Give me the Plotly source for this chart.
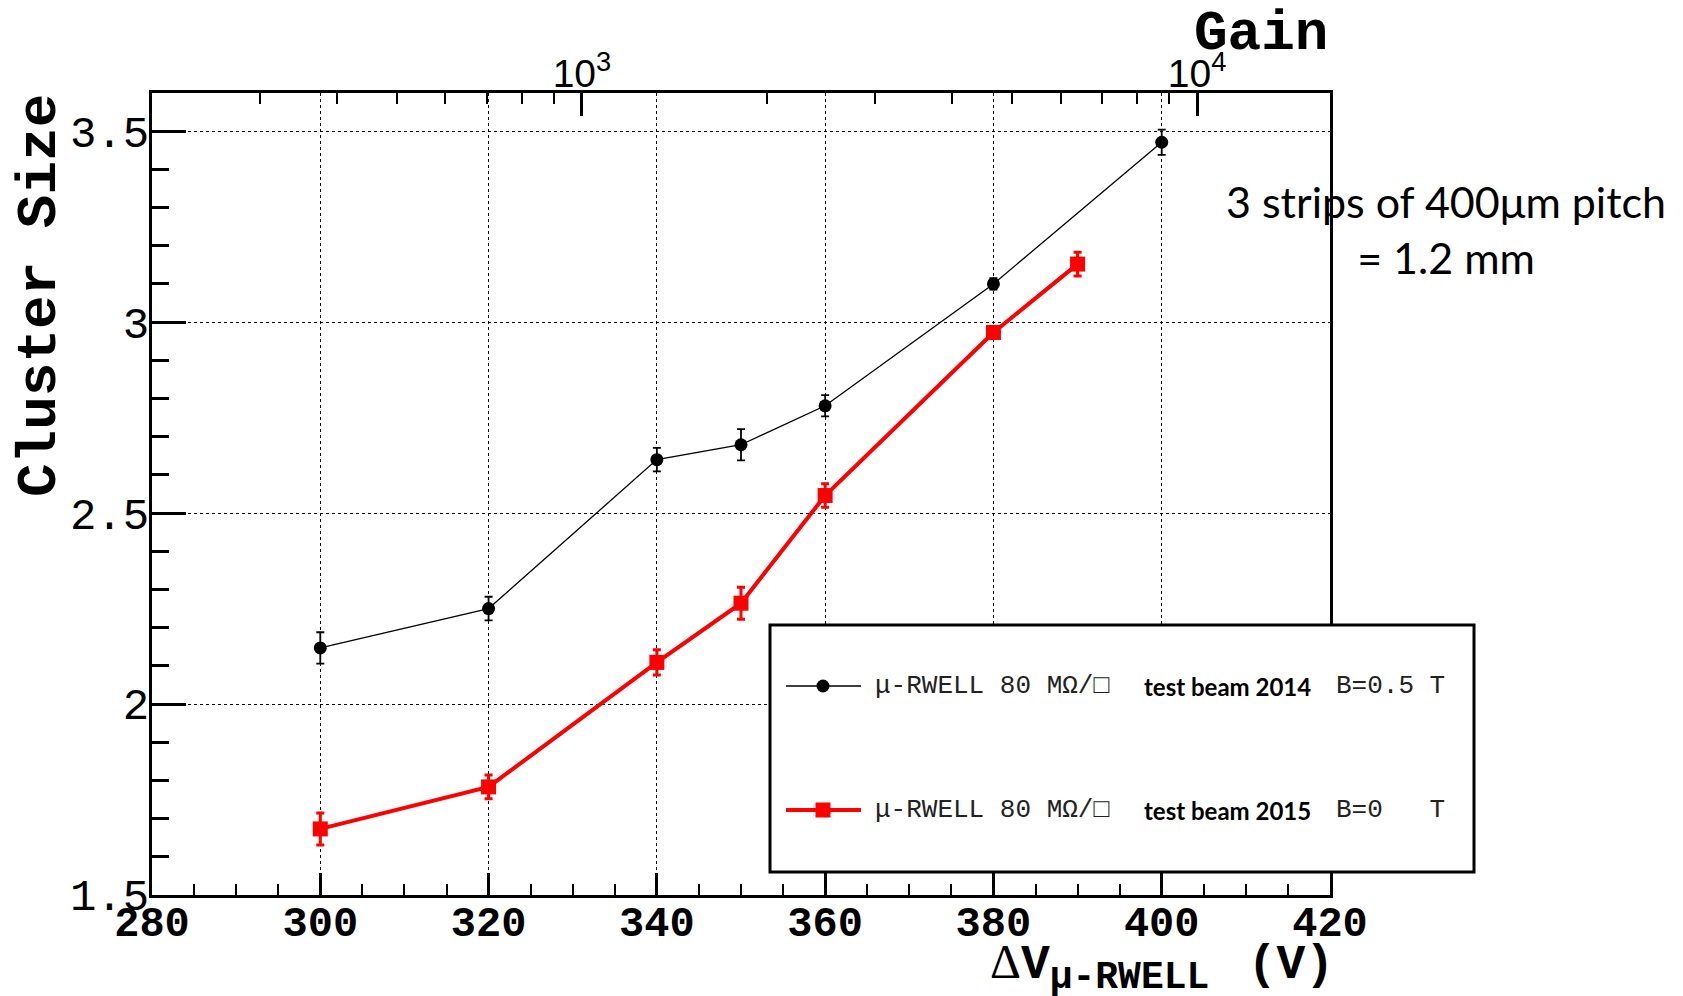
import plotly.graph_objects as go
import math

# ---------------- data ----------------
V_2014 = [300, 320, 340, 350, 360, 380, 400]
cs_2014 = [2.147, 2.250, 2.640, 2.679, 2.781, 3.100, 3.471]
err_2014 = [0.041, 0.031, 0.031, 0.041, 0.028, 0.015, 0.033]

V_2015 = [300, 320, 340, 350, 360, 380, 390]
cs_2015 = [1.673, 1.783, 2.109, 2.264, 2.546, 2.973, 3.152]
err_2015 = [0.042, 0.031, 0.033, 0.042, 0.031, 0.012, 0.031]

x_major = [280, 300, 320, 340, 360, 380, 400, 420]
x_labels = ["280", "300", "320", "340", "360", "380", "400", "420"]
y_major = [1.5, 2.0, 2.5, 3.0, 3.5]
y_labels = ["1.5", "2", "2.5", "3", "3.5"]

gain_major = [1000, 10000]
gain_labels = ["10<sup>3</sup>", "10<sup>4</sup>"]
gain_minor = [300, 400, 500, 600, 700, 800, 900,
              2000, 3000, 4000, 5000, 6000, 7000, 8000, 9000]
gain_range = [200, 16450]

legend_mono1 = ["μ-RWELL 80 MΩ/<b>□</b>", "μ-RWELL 80 MΩ/<b>□</b>"]
legend_beam = ["test beam 2014", "test beam 2015"]
legend_field = ["B=0.5 T", "B=0\u00a0\u00a0\u00a0T"]

# ---------------- geometry helpers ----------------
W, H = 1683, 996
L, R, T, B = 152, 1330, 93, 895
PW, PH = R - L, B - T


def px(xp):
    return (xp - L) / PW


def py(yp):
    return (B - yp) / PH


MONO = "Liberation Mono"
SANS = "Lato"

fig = go.Figure()

fig.add_trace(go.Scatter(
    x=V_2014, y=cs_2014, mode="lines+markers",
    line=dict(color="black", width=1.3),
    marker=dict(symbol="circle", size=13, color="black"),
    error_y=dict(type="data", array=err_2014, visible=True,
                 color="black", thickness=1.8, width=4),
    showlegend=False, hoverinfo="skip"))

fig.add_trace(go.Scatter(
    x=V_2015, y=cs_2015, mode="lines+markers",
    line=dict(color="#ff0000", width=4),
    marker=dict(symbol="square", size=15, color="#ff0000"),
    error_y=dict(type="data", array=err_2015, visible=True,
                 color="#ff0000", thickness=3, width=4),
    showlegend=False, hoverinfo="skip"))

# invisible trace to activate top gain axis
fig.add_trace(go.Scatter(
    x=[gain_major[0]], y=[y_major[1]], xaxis="x2", mode="markers",
    marker=dict(opacity=0), showlegend=False, hoverinfo="skip"))

fig.update_layout(
    width=W, height=H,
    margin=dict(l=L, r=W - R, t=T, b=H - B, pad=0),
    paper_bgcolor="white", plot_bgcolor="white",
    showlegend=False,
    xaxis=dict(
        range=[280, 420], tickmode="array", tickvals=x_major, ticktext=x_labels,
        ticks="inside", ticklen=22, tickwidth=2.5, tickcolor="black",
        minor=dict(dtick=5, ticks="inside", ticklen=11, tickwidth=2,
                   tickcolor="black", showgrid=False),
        showgrid=True, gridcolor="black", griddash="dot", gridwidth=1.2,
        showline=True, linecolor="black", linewidth=3, mirror=False,
        zeroline=False,
        tickfont=dict(family=MONO, size=42, color="black", weight="bold"),
        ticklabelstandoff=-12,
    ),
    xaxis2=dict(
        type="log", overlaying="x", side="top",
        range=[math.log10(gain_range[0]), math.log10(gain_range[1])],
        tickmode="array", tickvals=gain_major, ticktext=gain_labels,
        ticks="inside", ticklen=23, tickwidth=2.5, tickcolor="black",
        minor=dict(tickmode="array", tickvals=gain_minor, ticks="inside",
                   ticklen=11, tickwidth=2, tickcolor="black", showgrid=False),
        showgrid=False, showline=True, linecolor="black", linewidth=3,
        zeroline=False,
        tickfont=dict(family="Liberation Sans", size=39, color="black"),
        ticklabelstandoff=-13,
    ),
    yaxis=dict(
        range=[1.5, 3.6], tickmode="array", tickvals=y_major, ticktext=y_labels,
        ticks="inside", ticklen=34, tickwidth=3, tickcolor="black",
        minor=dict(dtick=0.1, ticks="inside", ticklen=17, tickwidth=2.5,
                   tickcolor="black", showgrid=False),
        showgrid=True, gridcolor="black", griddash="dot", gridwidth=1.2,
        showline=True, linecolor="black", linewidth=3, mirror=True,
        zeroline=False,
        tickfont=dict(family=MONO, size=44, color="black"),
        ticklabelstandoff=-9,
    ),
)

shapes = []
annotations = []

# axis titles
annotations.append(dict(
    text="Cluster Size", xref="paper", yref="paper",
    x=px(40), y=py(296), xanchor="center", yanchor="middle",
    textangle=-90, showarrow=False,
    font=dict(family=MONO, size=56, color="black", weight="bold")))
annotations.append(dict(
    text="Gain", xref="paper", yref="paper",
    x=1.0, y=py(34), xanchor="right", yanchor="middle", showarrow=False,
    font=dict(family=MONO, size=56, color="black", weight="bold")))
annotations.append(dict(
    text="<span style='font-family:Liberation Serif;font-weight:normal'>Δ</span>V"
         "<sub><span style='font-size:38px'>μ-RWELL</span></sub>\u00a0\u2009(V)",
    xref="paper", yref="paper", x=px(1336), y=py(933),
    xanchor="right", yanchor="top", showarrow=False,
    font=dict(family=MONO, size=48, color="black", weight="bold")))

# side note
annotations.append(dict(
    text="3 strips of 400μm pitch<br>= 1.2 mm",
    xref="paper", yref="paper", x=px(1446), y=py(230),
    xanchor="center", yanchor="middle", align="center", showarrow=False,
    font=dict(family=SANS, size=43, color="black")))

# legend box
shapes.append(dict(
    type="rect", xref="paper", yref="paper",
    x0=px(770), x1=px(1474), y0=py(872), y1=py(625),
    line=dict(color="black", width=3), fillcolor="white", layer="above"))

row_y = [686, 810]
line_cols = ["black", "#ff0000"]
line_ws = [1.5, 4]
for i in range(2):
    yy = py(row_y[i])
    shapes.append(dict(
        type="line", xref="paper", yref="paper",
        x0=px(786), x1=px(861), y0=yy, y1=yy,
        line=dict(color=line_cols[i], width=line_ws[i]), layer="above"))
    if i == 0:
        shapes.append(dict(
            type="circle", xref="paper", yref="paper",
            xsizemode="pixel", ysizemode="pixel",
            xanchor=px(823), yanchor=yy, x0=-6.5, x1=6.5, y0=-6.5, y1=6.5,
            fillcolor="black", line=dict(color="black", width=0), layer="above"))
    else:
        shapes.append(dict(
            type="rect", xref="paper", yref="paper",
            xsizemode="pixel", ysizemode="pixel",
            xanchor=px(823), yanchor=yy, x0=-7.5, x1=7.5, y0=-7.5, y1=7.5,
            fillcolor="#ff0000", line=dict(color="#ff0000", width=0), layer="above"))
    annotations.append(dict(
        text=legend_mono1[i], xref="paper", yref="paper",
        x=px(873), y=yy, xanchor="left", yanchor="middle", showarrow=False,
        font=dict(family=MONO, size=26, color="#222222")))
    annotations.append(dict(
        text=legend_beam[i], xref="paper", yref="paper",
        x=px(1142), y=yy, xanchor="left", yanchor="middle", showarrow=False,
        font=dict(family=SANS, size=24, color="black", weight="bold")))
    annotations.append(dict(
        text=legend_field[i], xref="paper", yref="paper",
        x=px(1334), y=yy, xanchor="left", yanchor="middle", showarrow=False,
        font=dict(family=MONO, size=26, color="#222222")))

fig.update_layout(shapes=shapes, annotations=annotations)

fig.write_html("out.html")
